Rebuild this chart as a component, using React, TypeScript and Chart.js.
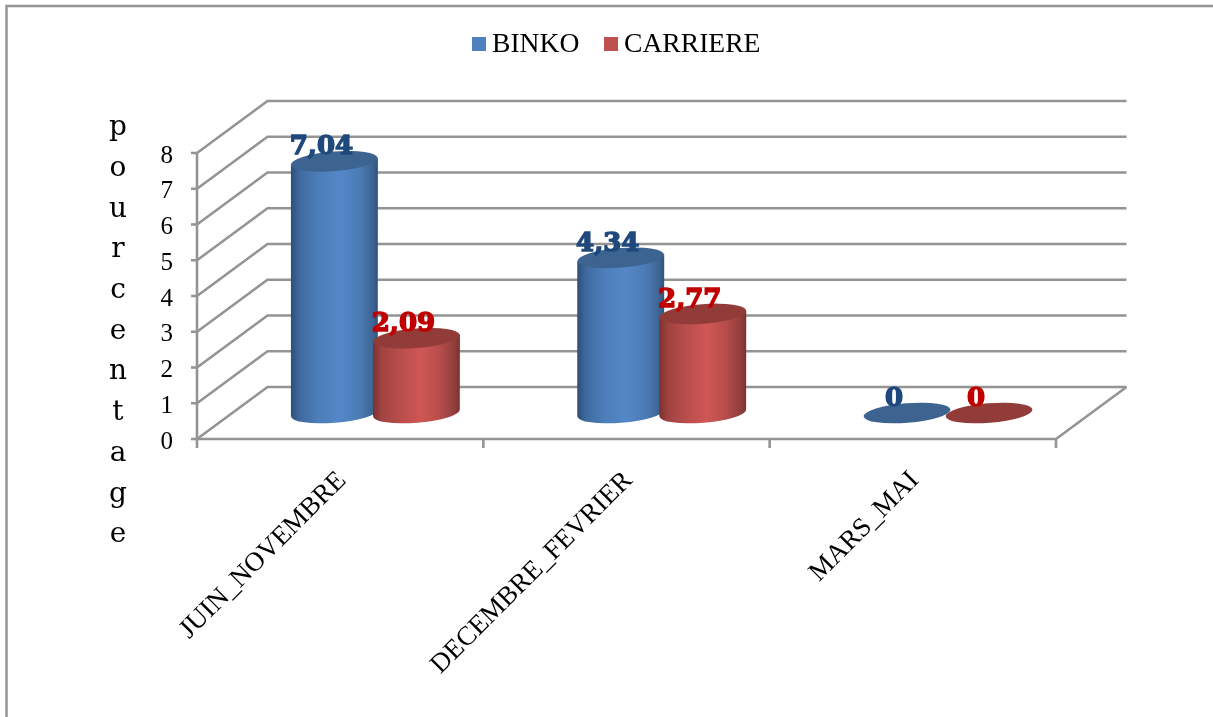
import { useEffect, useRef } from "react";
import { Chart, registerables } from "chart.js";

Chart.register(...registerables);

const categories = ["JUIN_NOVEMBRE", "DECEMBRE_FEVRIER", "MARS_MAI"];
const binko = [7.04, 4.34, 0];
const carriere = [2.09, 2.77, 0];
const binkoLabels = ["7,04", "4,34", "0"];
const carriereLabels = ["2,09", "2,77", "0"];
const axisTitle = "pourcentage";

const SERIF = '"Liberation Serif", serif';
const SLAB = '"DejaVu Serif", serif';
const GRID = "#949494";

// Depth of the 3D floor, in pixels, from the front edge to the back wall.
const DEPTH_X = 70.5;
const DEPTH_Y = -52;

const looks = [
  {
    face: "#4F81BD",
    top: "#3D6490",
    text: "#1F497D",
    labels: binkoLabels,
    stops: ["#2E4E78", "#3F6A9F", "#4C7DB8", "#5587C8", "#4C7CB6", "#3D6594", "#30527C"],
  },
  {
    face: "#C0504D",
    top: "#923C3A",
    text: "#C00000",
    labels: carriereLabels,
    stops: ["#7A3130", "#A04341", "#B84D4B", "#CF5755", "#B54C4A", "#8F3E3C", "#7A3130"],
  },
];
const stopAt = [0, 0.1, 0.3, 0.55, 0.78, 0.94, 1];

const stage3d = {
  id: "stage3d",
  beforeDatasetsDraw(chart: any) {
    const { ctx, scales } = chart;
    const { x, y } = scales;
    const left = x.left;
    const right = x.right;
    ctx.save();
    ctx.strokeStyle = GRID;
    ctx.lineJoin = "miter";

    // Outer frame: only the top and left sides are inside the page.
    ctx.lineWidth = 2.5;
    ctx.beginPath();
    ctx.moveTo(6.5, 717);
    ctx.lineTo(6.5, 6);
    ctx.lineTo(1213, 6);
    ctx.stroke();
    ctx.lineWidth = 2.6;

    // Side wall and back wall lines for every tick.
    y.ticks.forEach((t: any) => {
      const py = y.getPixelForValue(t.value);
      ctx.beginPath();
      ctx.moveTo(left, py);
      ctx.lineTo(left + DEPTH_X, py + DEPTH_Y);
      ctx.lineTo(right + DEPTH_X, py + DEPTH_Y);
      ctx.stroke();
      ctx.beginPath();
      ctx.moveTo(left - 6, py);
      ctx.lineTo(left, py);
      ctx.stroke();
    });

    // Value axis, floor front edge, floor right edge and category separators.
    const y0 = y.getPixelForValue(0);
    const y8 = y.getPixelForValue(8);
    ctx.beginPath();
    ctx.moveTo(left, y8);
    ctx.lineTo(left, y0);
    ctx.lineTo(right, y0);
    ctx.lineTo(right + DEPTH_X, y0 + DEPTH_Y);
    ctx.stroke();
    const step = (right - left) / categories.length;
    for (let i = 0; i <= categories.length; i++) {
      const px = left + step * i;
      ctx.beginPath();
      ctx.moveTo(px, y0);
      ctx.lineTo(px, y0 + 9);
      ctx.stroke();
    }
    ctx.restore();
  },
  afterDatasetsDraw(chart: any) {
    const { ctx } = chart;
    ctx.save();
    const tilt = -4.5 * (Math.PI / 180);
    const ry = 9.8;
    for (let i = 0; i < categories.length; i++) {
      chart.data.datasets.forEach((_: any, d: number) => {
        const bar = chart.getDatasetMeta(d).data[i];
        const look = looks[d];
        const rx = bar.width / 2;
        const cx = bar.x + DEPTH_X / 2;
        const topY = bar.y + DEPTH_Y / 2;
        const baseY = bar.base + DEPTH_Y / 2;
        const lift = Math.sin(tilt) * rx;

        if (baseY - topY > 0.5) {
          const g = ctx.createLinearGradient(cx - rx, 0, cx + rx, 0);
          look.stops.forEach((c, k) => g.addColorStop(stopAt[k], c));
          ctx.fillStyle = g;
          ctx.beginPath();
          ctx.moveTo(cx - rx, topY - lift);
          ctx.lineTo(cx - rx, baseY - lift);
          ctx.ellipse(cx, baseY, rx, ry, tilt, Math.PI, 0, true);
          ctx.lineTo(cx + rx, topY + lift);
          ctx.closePath();
          ctx.fill();
        }
        ctx.fillStyle = look.top;
        ctx.beginPath();
        ctx.ellipse(cx, topY, rx, ry, tilt, 0, Math.PI * 2);
        ctx.fill();
      });
    }

    // Value labels sit over the cylinder tops, so they are drawn last.
    ctx.font = `bold 26px ${SLAB}`;
    ctx.textAlign = "center";
    ctx.textBaseline = "middle";
    ctx.lineWidth = 1.5;
    for (let i = 0; i < categories.length; i++) {
      chart.data.datasets.forEach((_: any, d: number) => {
        const bar = chart.getDatasetMeta(d).data[i];
        const lx = bar.x + DEPTH_X / 2 - 13;
        const ly = bar.y + DEPTH_Y / 2 - 14;
        ctx.fillStyle = looks[d].text;
        ctx.strokeStyle = looks[d].text;
        ctx.fillText(looks[d].labels[i], lx, ly);
        ctx.strokeText(looks[d].labels[i], lx, ly);
      });
    }

    // Legend row.
    ctx.textAlign = "left";
    ctx.font = `27.6px ${SERIF}`;
    const starts = [472, 604];
    chart.data.datasets.forEach((ds: any, d: number) => {
      ctx.fillStyle = looks[d].face;
      ctx.fillRect(starts[d], 37, 14, 14);
      ctx.fillStyle = "#000";
      ctx.fillText(ds.label, starts[d] + 20, 45);
    });

    // Axis title, one letter per row.
    ctx.font = `28px ${SLAB}`;
    ctx.textAlign = "center";
    axisTitle.split("").forEach((ch, i) => {
      ctx.fillText(ch, 118, 128 + i * 40.7);
    });
    ctx.restore();
  },
};

export default function App() {
  const ref = useRef<HTMLCanvasElement>(null);
  useEffect(() => {
    const chart = new Chart(ref.current as HTMLCanvasElement, {
      type: "bar",
      data: {
        labels: categories,
        datasets: [
          { label: "BINKO", data: binko, backgroundColor: "rgba(0,0,0,0)" },
          { label: "CARRIERE", data: carriere, backgroundColor: "rgba(0,0,0,0)" },
        ],
      },
      plugins: [stage3d],
      options: {
        responsive: false,
        animation: false,
        layout: { padding: { left: 0, right: 157, top: 153, bottom: 0 } },
        datasets: { bar: { categoryPercentage: 0.573, barPercentage: 1.06, borderWidth: 0 } },
        plugins: { legend: { display: false }, tooltip: { enabled: false } },
        scales: {
          x: {
            grid: { display: false, drawTicks: false },
            border: { display: false },
            afterFit(scale: any) { scale.height = 278; },
            ticks: {
              autoSkip: false,
              minRotation: 45,
              maxRotation: 45,
              padding: 26,
              labelOffset: 2,
              color: "#000",
              font: { family: SERIF, size: 27 },
            },
          },
          y: {
            min: 0,
            max: 8,
            grid: { display: false, drawTicks: false },
            border: { display: false },
            afterFit(scale: any) { scale.width = 197; },
            ticks: {
              stepSize: 1,
              padding: 24,
              labelOffset: 3,
              color: "#000",
              font: { family: SERIF, size: 25 },
            },
          },
        },
      },
    } as any);
    return () => chart.destroy();
  }, []);
  return (
    <canvas
      ref={ref}
      width={1213}
      height={717}
      style={{ position: "fixed", left: 0, top: 0, width: 1213, height: 717, background: "#fff" }}
    />
  );
}
